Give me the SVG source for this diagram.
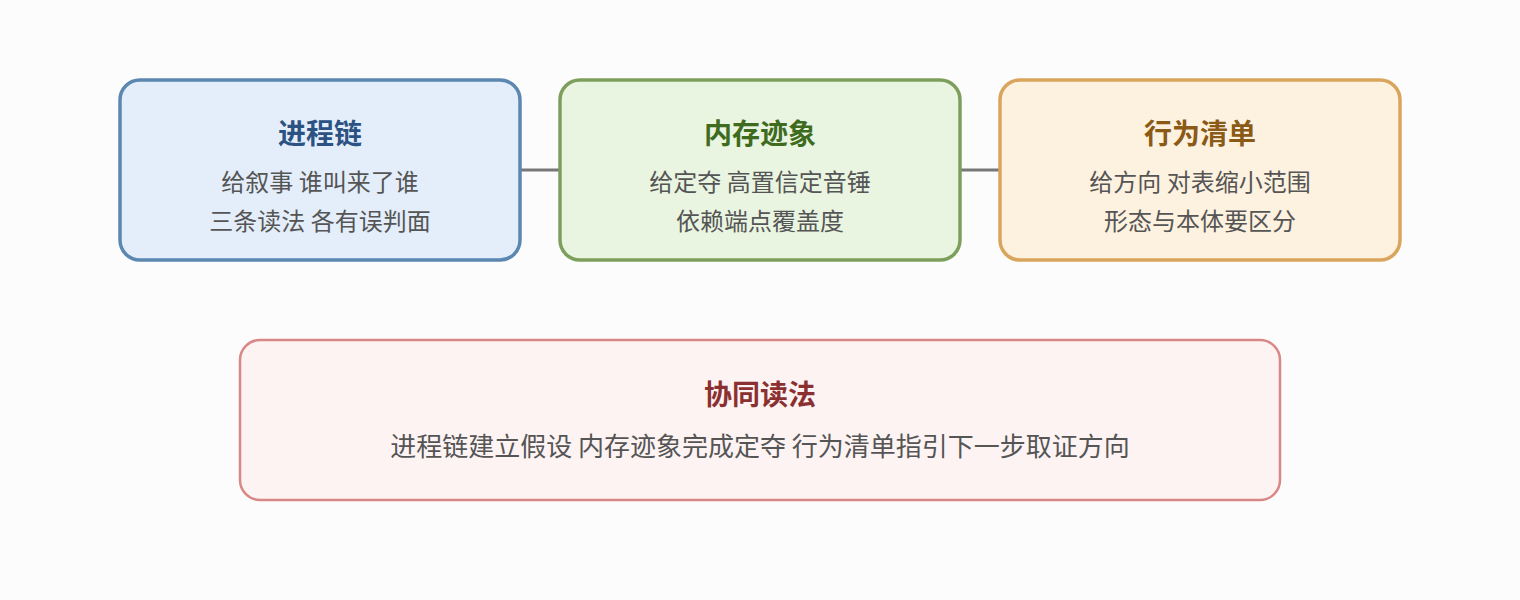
<svg xmlns="http://www.w3.org/2000/svg" width="1520" height="600" viewBox="0 0 1520 600">
<style>
text{font-family:"Noto Sans CJK SC","Noto Sans",sans-serif;text-anchor:middle}
.t{font-size:28px;font-weight:bold}
.b{font-size:24px;fill:#555555}
.l{font-size:26px;fill:#555555}
.c{stroke:#777777;stroke-width:3;fill:none}
</style>
<rect width="1520" height="600" fill="#FCFCFC"/>
<g id="connectors">
<line class="c" x1="520" y1="170" x2="560" y2="170"/>
<line class="c" x1="960" y1="170" x2="1000" y2="170"/>
</g>
<g id="node-process">
<rect x="120" y="80" width="400" height="180" rx="20" fill="#E3EEFA" stroke="#5B87B0" stroke-width="3.5"/>
<text class="t" x="320" y="144" fill="#2B5283">进程链</text>
<text class="b" x="320" y="191">给叙事 谁叫来了谁</text>
<text class="b" x="320" y="230">三条读法 各有误判面</text>
</g>
<g id="node-memory">
<rect x="560" y="80" width="400" height="180" rx="20" fill="#E9F4E1" stroke="#7CA05C" stroke-width="3.5"/>
<text class="t" x="760" y="144" fill="#3F6B1E">内存迹象</text>
<text class="b" x="760" y="191">给定夺 高置信定音锤</text>
<text class="b" x="760" y="230">依赖端点覆盖度</text>
</g>
<g id="node-behavior">
<rect x="1000" y="80" width="400" height="180" rx="20" fill="#FDF1E0" stroke="#D9A55C" stroke-width="3.5"/>
<text class="t" x="1200" y="144" fill="#8A5A16">行为清单</text>
<text class="b" x="1200" y="191">给方向 对表缩小范围</text>
<text class="b" x="1200" y="230">形态与本体要区分</text>
</g>
<g id="node-joint">
<rect x="240" y="340" width="1040" height="160" rx="20" fill="#FDF3F3" stroke="#D98888" stroke-width="2.5"/>
<text class="t" x="760" y="405" fill="#8B3030">协同读法</text>
<text class="l" x="760" y="456">进程链建立假设 内存迹象完成定夺 行为清单指引下一步取证方向</text>
</g>
</svg>
